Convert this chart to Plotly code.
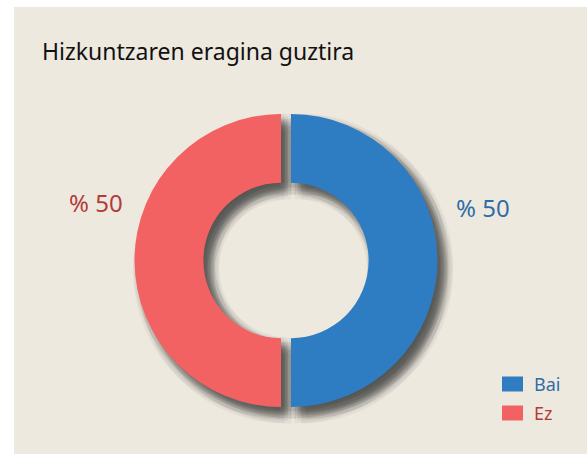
import math
import plotly.graph_objects as go

# ---- data ----
labels = ["Bai", "Ez"]
values = [50, 50]
colors = ["#2E7DC2", "#F36262"]
label_colors = ["#2F6DA8", "#B23B3B"]
title_text = "Hizkuntzaren eragina guztira"

W, H = 587, 454
ML, MT = 14, 7
PW, PH = W - ML, H - MT

def px2x(px):
    return (px - ML) / PW

def px2y(py):
    return (H - py) / PH

def domain(cx, cy, half):
    return dict(x=[px2x(cx - half), px2x(cx + half)],
                y=[px2y(cy + half), px2y(cy - half)])

CX, CY, R = 286, 260.5, 146.5
PULL = 0.034
HOLE = 0.53
HALF = R * (1 + PULL)

fig = go.Figure()

# soft drop shadow: translucent copies spread around an offset (approximate blur)
SDX, SDY = 7, 8
offsets = [(0.0, 0.0)]
for s in (3, 6, 9):
    for k in range(8):
        a = 2 * math.pi * k / 8 + (s / 3) * 0.4
        offsets.append((s * math.cos(a), s * math.sin(a)))
for ox, oy in offsets:
    fig.add_trace(go.Pie(
        labels=labels, values=values, sort=False, direction="clockwise",
        hole=HOLE, pull=PULL, textinfo="none", hoverinfo="skip",
        marker=dict(colors=["rgba(40,35,30,0.05)"] * len(values)),
        domain=domain(CX + SDX + ox, CY + SDY + oy, HALF), showlegend=False,
    ))

fig.add_trace(go.Pie(
    labels=labels, values=values, sort=False, direction="clockwise",
    hole=HOLE, pull=PULL, textinfo="none",
    marker=dict(colors=colors),
    domain=domain(CX, CY, HALF), showlegend=False,
))

shapes = [dict(type="rect", xref="paper", yref="paper", x0=0, x1=1, y0=0, y1=1,
               fillcolor="#EEE9DF", line=dict(width=0), layer="below")]
annotations = [dict(text=title_text, xref="paper", yref="paper",
                    x=px2x(40), y=px2y(51), xanchor="left", yanchor="middle",
                    showarrow=False, font=dict(family="Noto Sans", size=23, color="#111111"))]

# value labels
label_pos = [(483, 207), (96, 203)]
for (lx, ly), v, c in zip(label_pos, values, label_colors):
    annotations.append(dict(text=f"% {v}", xref="paper", yref="paper",
                            x=px2x(lx), y=px2y(ly), xanchor="center", yanchor="middle",
                            showarrow=False, font=dict(family="Noto Sans", size=24, color=c)))

# custom legend
leg_y = [384, 413]
for lab, col, tc, ly in zip(labels, colors, label_colors, leg_y):
    shapes.append(dict(type="rect", xref="paper", yref="paper",
                       x0=px2x(502), x1=px2x(523), y0=px2y(ly + 7.5), y1=px2y(ly - 7.5),
                       fillcolor=col, line=dict(width=0)))
    annotations.append(dict(text=lab, xref="paper", yref="paper",
                            x=px2x(532), y=px2y(ly), xanchor="left", yanchor="middle",
                            showarrow=False, font=dict(family="Noto Sans", size=18, color=tc)))

fig.update_layout(
    width=W, height=H,
    margin=dict(l=ML, r=0, t=MT, b=0),
    paper_bgcolor="white",
    plot_bgcolor="#EEE9DF",
    showlegend=False,
    shapes=shapes,
    annotations=annotations,
)

fig.write_html("out.html", config={"displayModeBar": False},
               post_script="document.body.style.margin='0px';document.body.style.padding='0px';")
